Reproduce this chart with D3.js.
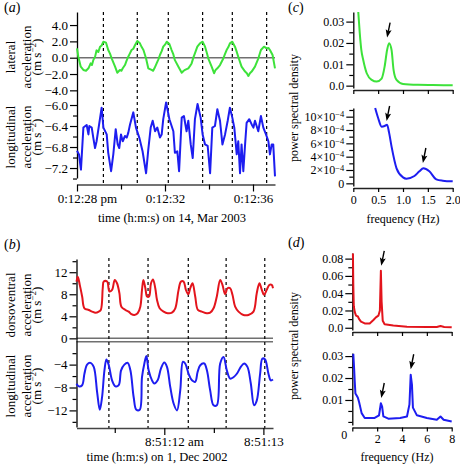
<!DOCTYPE html>
<html><head><meta charset="utf-8">
<script src="https://cdn.jsdelivr.net/npm/d3@7"></script>
<style>body{margin:0;background:#fff}svg{display:block}</style>
</head><body><script>
// ---------- DATA ----------
// (a) lateral acceleration, time in s after 0:12:00 pm
const aLat = [[28.0,1.14],[28.06,0.12],[28.17,-1.1],[28.29,-1.5],[28.41,-1.6],[28.52,-1.3],[28.62,-0.7],[28.68,-0.9],[28.74,-0.3],[28.82,0.1],[28.89,0.9],[28.97,0.7],[29.05,1.35],[29.12,1.5],[29.2,1.96],[29.32,1.84],[29.42,0.94],[29.5,0.5],[29.58,-0.1],[29.73,-1.1],[29.83,-1.84],[29.95,-1.5],[30.02,-1.6],[30.08,-1.3],[30.18,-0.9],[30.25,-0.4],[30.33,0.12],[30.4,0.5],[30.48,0.94],[30.56,1.1],[30.64,1.55],[30.74,2.05],[30.86,1.76],[30.94,1.3],[31.02,0.94],[31.14,-0.1],[31.24,-1.3],[31.39,-1.5],[31.46,-1.6],[31.52,-1.3],[31.62,-0.7],[31.7,-0.2],[31.77,0.33],[31.85,0.8],[31.92,1.35],[32.0,1.6],[32.08,1.96],[32.2,1.67],[32.3,0.94],[32.38,0.4],[32.45,-0.3],[32.61,-1.1],[32.76,-1.84],[32.85,-1.6],[32.91,-1.5],[33.06,-1.3],[33.14,-1.0],[33.21,-0.7],[33.3,0.1],[33.36,0.53],[33.47,1.35],[33.59,1.76],[33.71,1.96],[33.82,1.35],[33.9,0.6],[33.97,-0.1],[34.12,-1.1],[34.23,-1.9],[34.3,-1.5],[34.38,-1.3],[34.5,-0.9],[34.65,-0.1],[34.72,0.4],[34.8,0.94],[34.88,1.3],[34.95,1.76],[35.06,1.96],[35.18,1.35],[35.25,0.8],[35.33,0.12],[35.48,-1.1],[35.64,-1.7],[35.72,-1.9],[35.79,-2.24],[35.86,-1.9],[35.94,-1.7],[36.09,-1.1],[36.24,-0.1],[36.36,0.94],[36.5,1.35],[36.62,1.14],[36.7,1.2],[36.77,0.94],[36.89,0.33],[37.0,-1.3]];
// (a) longitudinal acceleration
const aLong = [[28.0,-6.87],[28.09,-6.94],[28.18,-7.23],[28.29,-6.43],[28.44,-6.38],[28.52,-6.56],[28.56,-6.4],[28.67,-6.43],[28.74,-6.62],[28.82,-6.82],[28.89,-6.69],[29.12,-6.05],[29.2,-6.43],[29.35,-6.56],[29.42,-6.91],[29.55,-7.26],[29.65,-6.94],[29.76,-6.46],[29.85,-6.75],[29.92,-6.82],[30.0,-6.56],[30.08,-6.69],[30.18,-6.59],[30.26,-6.62],[30.33,-6.53],[30.41,-6.37],[30.56,-6.14],[30.68,-6.43],[30.83,-6.62],[30.98,-6.88],[31.14,-7.3],[31.24,-6.85],[31.35,-6.43],[31.44,-6.3],[31.55,-6.5],[31.65,-6.43],[31.77,-6.62],[31.85,-6.56],[31.92,-6.27],[32.05,-5.95],[32.2,-6.27],[32.38,-6.5],[32.45,-6.91],[32.56,-6.88],[32.64,-7.26],[32.76,-6.24],[32.86,-6.21],[32.98,-6.5],[33.06,-6.3],[33.17,-6.75],[33.26,-7.01],[33.36,-6.27],[33.48,-5.98],[33.62,-6.24],[33.71,-6.56],[33.82,-6.75],[33.94,-6.78],[34.05,-7.3],[34.15,-6.43],[34.27,-6.4],[34.38,-6.08],[34.5,-6.3],[34.61,-6.75],[34.73,-6.56],[34.85,-6.3],[34.95,-6.05],[35.06,-6.24],[35.15,-6.43],[35.26,-6.94],[35.33,-6.69],[35.41,-7.3],[35.48,-6.75],[35.56,-7.26],[35.64,-6.75],[35.71,-6.34],[35.83,-6.27],[35.94,-6.37],[36.02,-6.43],[36.09,-6.3],[36.24,-6.5],[36.36,-6.21],[36.47,-6.43],[36.59,-6.56],[36.7,-6.69],[36.77,-6.94],[36.85,-6.75],[36.92,-6.75],[37.0,-7.36]];
const aDashTimes = [29.2,30.74,32.15,33.71,35.06,36.62];
const aXTicks = [28,32,36];
const aXTickLabels = ["0:12:28","0:12:32","0:12:36"];
const aXTickSuffix = ["pm","",""];
const aXMinor = [30,34];
const aLatTicks = [4,2,0,-2,-4];
const aLongTicks = [-6.0,-6.4,-6.8,-7.2];
const aLongMinor = [-6.2,-6.6,-7.0,-7.4];

// (b) time in s after 8:51:00 am
const bDorso = [[11.114,10.3],[11.127,11.2],[11.147,9.7],[11.171,7.6],[11.194,5.45],[11.238,5.15],[11.272,4.85],[11.305,4.65],[11.339,4.85],[11.36,5.2],[11.379,9.1],[11.389,10.3],[11.423,10.3],[11.446,8.5],[11.473,8.8],[11.5,10.6],[11.523,10.0],[11.547,8.2],[11.567,5.75],[11.607,5.15],[11.641,4.85],[11.668,4.4],[11.698,4.25],[11.731,4.55],[11.758,5.75],[11.775,8.8],[11.789,10.6],[11.809,9.1],[11.826,7.6],[11.846,7.6],[11.866,10.0],[11.886,10.7],[11.909,9.1],[11.926,7.0],[11.953,5.45],[11.993,4.85],[12.034,4.55],[12.077,4.65],[12.111,5.45],[12.144,8.8],[12.168,10.3],[12.195,10.3],[12.218,8.8],[12.242,8.0],[12.262,9.1],[12.285,10.0],[12.312,7.6],[12.339,5.15],[12.379,4.85],[12.43,4.55],[12.463,4.65],[12.497,5.45],[12.53,7.6],[12.564,10.6],[12.587,9.7],[12.614,8.0],[12.638,9.1],[12.665,9.1],[12.688,7.9],[12.715,5.75],[12.749,4.85],[12.799,4.25],[12.849,4.25],[12.9,4.85],[12.933,8.2],[12.96,10.0],[12.984,8.8],[13.007,7.9],[13.034,8.8],[13.061,9.7],[13.084,9.7],[13.097,9.1]];
const bLong = [[11.114,-7.33],[11.137,-7.8],[11.171,-7.6],[11.194,-5.6],[11.221,-4.0],[11.255,-3.7],[11.288,-4.4],[11.322,-8.8],[11.349,-11.9],[11.372,-9.7],[11.396,-5.0],[11.416,-3.1],[11.44,-4.1],[11.473,-6.75],[11.507,-7.8],[11.54,-7.6],[11.564,-5.0],[11.597,-4.0],[11.631,-3.7],[11.658,-5.0],[11.691,-9.7],[11.718,-11.9],[11.752,-11.9],[11.775,-6.2],[11.799,-3.8],[11.819,-2.5],[11.842,-5.0],[11.876,-6.75],[11.899,-7.3],[11.933,-6.75],[11.966,-4.7],[12.0,-3.65],[12.027,-4.4],[12.06,-7.9],[12.094,-10.8],[12.128,-12.0],[12.161,-8.5],[12.188,-3.5],[12.211,-3.8],[12.245,-5.6],[12.279,-6.75],[12.312,-7.0],[12.336,-5.3],[12.363,-4.1],[12.403,-3.8],[12.43,-5.0],[12.463,-8.5],[12.497,-11.1],[12.53,-11.1],[12.564,-3.8],[12.598,-2.65],[12.631,-5.0],[12.665,-6.45],[12.698,-6.2],[12.732,-5.6],[12.772,-4.4],[12.806,-3.8],[12.839,-4.4],[12.873,-7.3],[12.906,-11.1],[12.933,-10.3],[12.967,-5.6],[12.99,-2.95],[13.017,-3.1],[13.051,-5.6],[13.074,-6.75],[13.097,-6.6]];
const bDashTimes = [11.441,11.836,12.242,12.624,13.014];
const bXTicks = [12,13];
const bXTickLabels = ["8:51:12","8:51:13"];
const bXTickSuffix = ["am",""];
const bXMinor = [11.5,12.5];
const bDorsoTicks = [0,4,8,12];
const bDorsoMinor = [2,6,10,14];
const bLongTicks = [-4,-8,-12];
const bLongMinor = [-2,-6,-10,-14];

// (c) power spectra, freq in Hz
const cLat = [[0.1,0.0345],[0.13,0.0246],[0.16,0.017],[0.2,0.012],[0.27,0.0058],[0.37,0.0027],[0.47,0.0019],[0.57,0.0033],[0.63,0.0089],[0.68,0.0167],[0.72,0.0199],[0.77,0.0167],[0.81,0.0074],[0.87,0.0027],[1.0,0.0008],[1.3,0.0004],[1.6,0.0003],[2.0,0.0002]];
const cLong = [[0.44,11.3e-4],[0.5,9.8e-4],[0.57,8.5e-4],[0.63,8.6e-4],[0.68,8.8e-4],[0.72,7.6e-4],[0.77,5.5e-4],[0.87,2.25e-4],[1.0,0.9e-4],[1.07,0.7e-4],[1.23,1.1e-4],[1.33,1.8e-4],[1.41,2.25e-4],[1.53,1.8e-4],[1.67,0.6e-4],[1.8,0.4e-4],[2.0,0.3e-4]];
const cLatTicks = [0,0.01,0.02,0.03];
const cLatTickLabels = ["0.0","0.01","0.02","0.03"];
const cLatMinor = [0.005,0.015,0.025];
const cLongTicks = [0,2e-4,4e-4,6e-4,8e-4,10e-4];
const cLongMantissa = ["0","2","4","6","8","10"];
const cLongMinor = [1e-4,3e-4,5e-4,7e-4,9e-4,11e-4];
const cXTicks = [0,0.5,1.0,1.5,2.0];
const cXTickLabels = ["0","0.5","1.0","1.5","2.0"];
const cArrowsLat = [[0.68,0.0225]];
const cArrowsLong = [[0.67,9.35e-4],[1.40,3.05e-4]];

// (d) power spectra
const dDorso = [[0.05,0.086],[0.08,0.05],[0.12,0.025],[0.2,0.018],[0.3,0.014],[0.45,0.013],[0.55,0.01],[0.7,0.007],[1.0,0.005],[1.4,0.005],[1.7,0.009],[1.9,0.012],[2.1,0.014],[2.22,0.02],[2.3,0.066],[2.36,0.03],[2.45,0.008],[2.6,0.004],[3.3,0.0025],[4.4,0.0012],[6.0,0.0008],[6.8,0.0009],[7.1,0.002],[7.4,0.0009],[8.0,0.0005]];
const dLong = [[0.08,0.031],[0.15,0.024],[0.2,0.018],[0.25,0.013],[0.35,0.012],[0.45,0.011],[0.55,0.009],[0.75,0.004],[1.0,0.0018],[1.8,0.0018],[2.15,0.003],[2.3,0.0085],[2.4,0.007],[2.5,0.0025],[2.9,0.0015],[3.85,0.0018],[4.4,0.0025],[4.6,0.008],[4.7,0.0215],[4.8,0.017],[4.88,0.0065],[5.2,0.003],[6.0,0.0018],[6.8,0.001],[7.1,0.0025],[7.35,0.001],[8.0,0.0002]];
const dDorsoTicks = [0,0.02,0.04,0.06,0.08];
const dDorsoTickLabels = ["0.0","0.02","0.04","0.06","0.08"];
const dDorsoMinor = [0.01,0.03,0.05,0.07];
const dLongTicks = [0.01,0.02,0.03];
const dLongTickLabels = ["0.01","0.02","0.03"];
const dLongMinor = [0,0.005,0.015,0.025];
const dXTicks = [0,2,4,6,8];
const dXTickLabels = ["","2","4","6","8"];
const dArrowsDorso = [[2.33,0.0717]];
const dArrowsLong = [[2.33,0.0109],[4.7,0.024]];

// ---------- DRAWING ----------
const FONT = '"Liberation Serif","Times New Roman",Times,serif';
const GREEN = "#3de23a", BLUE = "#1d1df0", RED = "#e3141c";
const svg = d3.select("body").append("svg").attr("width",460).attr("height",464)
  .attr("font-family",FONT);

// scales
const ax = d3.scaleLinear().domain([28,37]).range([77,275]);
const aLatY = d3.scaleLinear().domain([-5,5.6]).range([98.5,12]);
const aLongY = d3.scaleLinear().domain([-7.39,-5.876]).range([178,98.5]);
const bx = d3.scaleLinear().domain([11.114,13.097]).range([76.5,273]);
const bDorsoY = d3.scaleLinear().domain([-0.3,14.4]).range([340,259]);
const bLongY = d3.scaleLinear().domain([-14.9,0.3]).range([427,340]);
const cx = d3.scaleLinear().domain([0,2]).range([353.3,452.7]);
const cLatY = d3.scaleLinear().domain([-0.0011,0.0345]).range([88,12]);
const cLongY = d3.scaleLinear().domain([-0.4e-4,11.3e-4]).range([186,108]);
const dx = d3.scaleLinear().domain([0,8]).range([352.3,451.7]);
const dDorsoY = d3.scaleLinear().domain([-0.0026,0.0865]).range([330,253]);
const dLongY = d3.scaleLinear().domain([-0.0014,0.0314]).range([425,353]);

function styleAxis(g, fs, dc, dw){
  g.attr("font-family",FONT).attr("font-size",fs);
  g.select(".domain").attr("stroke",dc).attr("stroke-width",dw);
  g.selectAll(".tick line").attr("stroke","#000").attr("stroke-width",1.2);
  g.selectAll(".tick text").attr("fill","#000");
}
function yAxis(scale, x, majors, minors, fmt, fs){
  const g = svg.append("g").attr("transform",`translate(${x},0)`)
    .call(d3.axisLeft(scale).tickValues(majors).tickSize(7).tickSizeOuter(0).tickPadding(2).tickFormat(fmt));
  styleAxis(g, fs, "#000", 1.3);
  if (minors.length){
    const m = svg.append("g").attr("transform",`translate(${x},0)`)
      .call(d3.axisLeft(scale).tickValues(minors).tickSize(4).tickSizeOuter(0).tickFormat(""));
    m.select(".domain").remove();
    m.selectAll(".tick line").attr("stroke","#000").attr("stroke-width",1.2);
  }
  return g;
}
function xAxis(scale, y, majors, minors, fmt, fs, dc, dw, tsize, pad){
  const g = svg.append("g").attr("transform",`translate(0,${y})`)
    .call(d3.axisBottom(scale).tickValues(majors).tickSize(tsize).tickSizeOuter(0).tickPadding(pad).tickFormat(fmt));
  styleAxis(g, fs, dc, dw);
  if (minors.length){
    const m = svg.append("g").attr("transform",`translate(0,${y})`)
      .call(d3.axisBottom(scale).tickValues(minors).tickSize(5).tickSizeOuter(0).tickFormat(""));
    m.select(".domain").remove();
    m.selectAll(".tick line").attr("stroke","#000").attr("stroke-width",1.2);
  }
  return g;
}
function addSuffix(g, ticks, suffix){
  g.selectAll(".tick text").each(function(d){
    const i = ticks.indexOf(d);
    if (i < 0 || !suffix[i]) return;
    const t = d3.select(this);
    const w0 = this.getComputedTextLength();
    t.text(t.text() + " " + suffix[i]);
    t.attr("text-anchor","start").attr("x", -w0/2);
  });
}
function draw(data, xs, ys, color, curve){
  svg.append("path").datum(data)
    .attr("fill","none").attr("stroke",color).attr("stroke-width",2).attr("stroke-linejoin","round")
    .attr("d", d3.line().x(d=>xs(d[0])).y(d=>ys(d[1])).curve(curve)(data));
}
function dashes(times, xs, y0, y1){
  svg.append("g").selectAll("line").data(times).join("line")
    .attr("x1",d=>xs(d)).attr("x2",d=>xs(d)).attr("y1",y0).attr("y2",y1)
    .attr("stroke","#000").attr("stroke-width",1.2).attr("stroke-dasharray","3,3");
}
function arrows(list, xs, ys){
  list.forEach(([f,v])=>{
    const tx = xs(f), ty = ys(v);
    const sx = tx+3, sy = ty-15;
    const L = Math.hypot(tx-sx, ty-sy), ux=(tx-sx)/L, uy=(ty-sy)/L;
    const bx_ = tx-ux*8, by_ = ty-uy*8;
    svg.append("line").attr("x1",sx).attr("y1",sy).attr("x2",bx_+ux*2).attr("y2",by_+uy*2)
      .attr("stroke","#000").attr("stroke-width",1.4);
    svg.append("path").attr("d",`M${tx},${ty}L${bx_-uy*3},${by_+ux*3}L${bx_+ux*1.5},${by_+uy*1.5}L${bx_+uy*3},${by_-ux*3}Z`).attr("fill","#000");
  });
}
function vlabel(lines, xs, cy, fs){
  lines.forEach((ln,i)=>{
    const t = svg.append("text").attr("transform",`translate(${xs[i]},${cy}) rotate(-90)`)
      .attr("text-anchor","middle").attr("font-size",fs).attr("fill","#000");
    if (ln === "units"){
      t.append("tspan").text("(m s");
      t.append("tspan").attr("dy",-5).attr("font-size",fs*0.7).text("−2");
      t.append("tspan").attr("dy",5).text(")");
    } else t.text(ln);
  });
}
function panelLetter(ch, x, y){
  const t = svg.append("text").attr("x",x).attr("y",y).attr("font-size",14).attr("fill","#000");
  t.append("tspan").text("(");
  t.append("tspan").attr("font-style","italic").text(ch);
  t.append("tspan").text(")");
}
const f1 = d3.format(".1f"), fd = d3.format("d");

// ----- panel (a) -----
panelLetter("a", 4, 12);
svg.append("line").attr("x1",ax(28)).attr("x2",ax(37)).attr("y1",aLatY(0)).attr("y2",aLatY(0))
  .attr("stroke","#707070").attr("stroke-width",1.6);
dashes(aDashTimes, ax, 12, 184.5);
yAxis(aLatY, 77, aLatTicks, [], f1, 13);
yAxis(aLongY, 77, aLongTicks, aLongMinor, f1, 13);
const aXg = xAxis(ax, 184.5, aXTicks, aXMinor, d=>aXTickLabels[aXTicks.indexOf(d)], 13, "#444", 1.6, 7, 2);
addSuffix(aXg, aXTicks, aXTickSuffix);
draw(aLat, ax, aLatY, GREEN, d3.curveLinear);
draw(aLong, ax, aLongY, BLUE, d3.curveLinear);
vlabel(["lateral","acceleration","units"],[15,30.5,40.5],57,13);
vlabel(["longitudinal","acceleration","units"],[15,30.5,40.5],137,13);
svg.append("text").attr("x",172).attr("y",222).attr("text-anchor","middle").attr("font-size",12.5)
  .text("time (h:m:s) on 14, Mar 2003");

// ----- panel (b) -----
panelLetter("b", 4, 249);
[bDorsoY(0), bLongY(0)].forEach(y=>svg.append("line").attr("x1",bx.range()[0]).attr("x2",bx.range()[1])
  .attr("y1",y).attr("y2",y).attr("stroke","#707070").attr("stroke-width",1.5));
dashes(bDashTimes, bx, 258, 428);
yAxis(bDorsoY, 76.5, bDorsoTicks, bDorsoMinor, fd, 13);
yAxis(bLongY, 76.5, bLongTicks, bLongMinor, fd, 13);
const bXg = xAxis(bx, 428, bXTicks, bXMinor, d=>bXTickLabels[bXTicks.indexOf(d)], 13, "#444", 1.6, 7, 2);
addSuffix(bXg, bXTicks, bXTickSuffix);
draw(bDorso, bx, bDorsoY, RED, d3.curveCatmullRom);
draw(bLong, bx, bLongY, BLUE, d3.curveCatmullRom);
vlabel(["dorsoventral","acceleration","units"],[15,30.5,40.5],305,13);
vlabel(["longitudinal","acceleration","units"],[15,30.5,40.5],386,13);
svg.append("text").attr("x",157).attr("y",461).attr("text-anchor","middle").attr("font-size",12.5)
  .text("time (h:m:s) on 1, Dec 2002");

// ----- panel (c) -----
panelLetter("c", 288, 12);
yAxis(cLatY, 353.3, cLatTicks, cLatMinor, d=>cLatTickLabels[cLatTicks.indexOf(d)], 12);
xAxis(cx, 90, cXTicks, [], "", 12, "#222", 1.4, 4, 3);
const cLg = yAxis(cLongY, 353.3, cLongTicks, cLongMinor, d=>cLongMantissa[cLongTicks.indexOf(d)], 12);
cLg.selectAll(".tick text").each(function(d){
  const i = cLongTicks.indexOf(d);
  if (d === 0) return;
  const t = d3.select(this).text(null);
  t.append("tspan").text(cLongMantissa[i] + "×10");
  t.append("tspan").attr("dy","-0.45em").attr("font-size",8.5).text("−4");
});
xAxis(cx, 188, cXTicks, [], d=>cXTickLabels[cXTicks.indexOf(d)], 12, "#222", 1.4, 4, 3);
draw(cLat, cx, cLatY, GREEN, d3.curveMonotoneX);
draw(cLong, cx, cLongY, BLUE, d3.curveMonotoneX);
arrows(cArrowsLat, cx, cLatY);
arrows(cArrowsLong, cx, cLongY);
vlabel(["power spectral density"],[298],108,12);
svg.append("text").attr("x",403).attr("y",223).attr("text-anchor","middle").attr("font-size",12)
  .text("frequency (Hz)");

// ----- panel (d) -----
panelLetter("d", 288, 247);
yAxis(dDorsoY, 352.3, dDorsoTicks, dDorsoMinor, d=>dDorsoTickLabels[dDorsoTicks.indexOf(d)], 12);
xAxis(dx, 332, dXTicks, [], "", 12, "#222", 1.4, 4, 3);
yAxis(dLongY, 352.3, dLongTicks, dLongMinor, d=>dLongTickLabels[dLongTicks.indexOf(d)], 12);
xAxis(dx, 427.5, dXTicks, [], d=>dXTickLabels[dXTicks.indexOf(d)], 12, "#222", 1.4, 4, 3);
svg.append("text").attr("x",dx(0)-8).attr("y",439).attr("text-anchor","middle").attr("font-size",12).text("0");
draw(dDorso, dx, dDorsoY, RED, d3.curveLinear);
draw(dLong, dx, dLongY, BLUE, d3.curveLinear);
arrows(dArrowsDorso, dx, dDorsoY);
arrows(dArrowsLong, dx, dLongY);
vlabel(["power spectral density"],[298],346,12);
svg.append("text").attr("x",397).attr("y",461).attr("text-anchor","middle").attr("font-size",12)
  .text("frequency (Hz)");
</script></body></html>
